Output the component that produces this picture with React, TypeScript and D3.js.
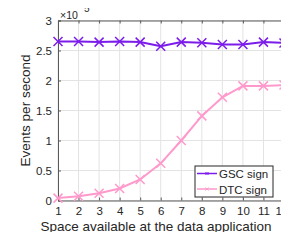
import * as d3 from 'd3'
import { useEffect, useRef } from 'react'

const space = [1, 2, 3, 4, 5, 6, 7, 8, 9, 10, 11, 12]
const gscSign = [2.65, 2.65, 2.64, 2.65, 2.64, 2.57, 2.64, 2.63, 2.6, 2.6, 2.64, 2.625]
const dtcSign = [0.04, 0.07, 0.12, 0.2, 0.35, 0.62, 1.0, 1.41, 1.72, 1.91, 1.91, 1.925]
const yTicks = [0, 0.5, 1, 1.5, 2, 2.5, 3]

const series = [
  { name: 'GSC sign', values: gscSign, color: '#7c1ceb' },
  { name: 'DTC sign', values: dtcSign, color: '#ff99cc' },
]

export default function App() {
  const ref = useRef<SVGSVGElement>(null)

  useEffect(() => {
    if (!ref.current) return
    const svg = d3.select(ref.current)
    svg.selectAll('*').remove()

    const width = 289
    const height = 240
    const margin = { top: 20.5, right: 5, bottom: 39.5, left: 58 }
    const font = 'Liberation Sans, Arial, sans-serif'
    const axisColor = '#5a5a5a'

    const x = d3
      .scaleLinear()
      .domain([1, 12])
      .range([margin.left, width - margin.right])
    const y = d3
      .scaleLinear()
      .domain([0, 3])
      .range([height - margin.bottom, margin.top])

    // Grid
    svg
      .append('g')
      .selectAll('line')
      .data(space)
      .enter()
      .append('line')
      .attr('x1', d => x(d))
      .attr('x2', d => x(d))
      .attr('y1', y(0))
      .attr('y2', y(3))
      .attr('stroke', '#e3e3e3')
    svg
      .append('g')
      .selectAll('line')
      .data(yTicks)
      .enter()
      .append('line')
      .attr('x1', x(1))
      .attr('x2', x(12))
      .attr('y1', d => y(d))
      .attr('y2', d => y(d))
      .attr('stroke', '#e3e3e3')

    // Axes with inward ticks
    const bottom = svg
      .append('g')
      .attr('transform', `translate(0,${y(0)})`)
      .call(d3.axisBottom(x).tickValues(space).tickSize(-3).tickPadding(6).tickFormat(d3.format('d')))
    const top = svg
      .append('g')
      .attr('transform', `translate(0,${y(3)})`)
      .call(d3.axisTop(x).tickValues(space).tickSize(-3).tickFormat(() => ''))
    const left = svg
      .append('g')
      .attr('transform', `translate(${x(1)},0)`)
      .call(d3.axisLeft(y).tickValues(yTicks).tickSize(-3).tickPadding(6).tickFormat(d3.format('')))
    const right = svg
      .append('g')
      .attr('transform', `translate(${x(12)},0)`)
      .call(d3.axisRight(y).tickValues(yTicks).tickSize(-3).tickFormat(() => ''))

    ;[bottom, top, left, right].forEach(g => {
      g.selectAll('path').attr('stroke', axisColor)
      g.selectAll('line').attr('stroke', axisColor)
      g.selectAll('text')
        .attr('fill', '#262626')
        .style('font-family', font)
        .style('font-size', '11.5px')
    })
    // keep the last label inside the window
    bottom.selectAll<SVGTextElement, number>('text').filter(d => d === 12).attr('dx', -2.5)

    // Exponent
    svg
      .append('text')
      .attr('x', x(1) + 2)
      .attr('y', 18.5)
      .attr('fill', '#262626')
      .style('font-family', font)
      .style('font-size', '10.5px')
      .text('×10')
    svg
      .append('text')
      .attr('x', x(1) + 26)
      .attr('y', 12)
      .attr('fill', '#262626')
      .style('font-family', font)
      .style('font-size', '10px')
      .text('5')

    // Lines and markers
    series.forEach(s => {
      const line = d3
        .line<number>()
        .x((_, i) => x(space[i]))
        .y(d => y(d))
      svg
        .append('path')
        .datum(s.values)
        .attr('fill', 'none')
        .attr('stroke', s.color)
        .attr('stroke-width', 2)
        .attr('d', line)
      const m = 4.5
      svg
        .append('g')
        .selectAll('path')
        .data(s.values)
        .enter()
        .append('path')
        .attr('d', (d, i) => {
          const cx = x(space[i])
          const cy = y(d)
          return `M${cx - m},${cy - m}L${cx + m},${cy + m}M${cx - m},${cy + m}L${cx + m},${cy - m}`
        })
        .attr('stroke', s.color)
        .attr('stroke-width', 1.5)
        .attr('fill', 'none')
    })

    // Legend
    const lg = svg.append('g').attr('transform', 'translate(195,166)')
    lg.append('rect')
      .attr('width', 78)
      .attr('height', 31)
      .attr('fill', 'white')
      .attr('stroke', '#262626')
      .attr('stroke-width', 1)
    series.forEach((s, i) => {
      const ly = 7.5 + i * 15.5
      lg.append('line')
        .attr('x1', 2)
        .attr('x2', 22)
        .attr('y1', ly)
        .attr('y2', ly)
        .attr('stroke', s.color)
        .attr('stroke-width', 1.5)
      lg.append('path')
        .attr('d', `M10.5,${ly - 1.5}L13.5,${ly + 1.5}M10.5,${ly + 1.5}L13.5,${ly - 1.5}`)
        .attr('stroke', s.color)
        .attr('stroke-width', 1)
      lg.append('text')
        .attr('x', 24)
        .attr('y', ly + 4.5)
        .attr('fill', '#262626')
        .style('font-family', font)
        .style('font-size', '11.5px')
        .text(s.name)
    })

    // Axis labels
    svg
      .append('text')
      .attr('x', (x(1) + x(12)) / 2 - 15)
      .attr('y', 231)
      .attr('text-anchor', 'middle')
      .attr('fill', '#262626')
      .style('font-family', font)
      .style('font-size', '13.5px')
      .text('Space available at the data application')
    svg
      .append('text')
      .attr('transform', `translate(30,${(y(0) + y(3)) / 2}) rotate(-90)`)
      .attr('text-anchor', 'middle')
      .attr('fill', '#262626')
      .style('font-family', font)
      .style('font-size', '13.5px')
      .text('Events per second')
  }, [])

  return (
    <div style={{ margin: -8 }}>
      <svg ref={ref} width={289} height={240} style={{ display: 'block', background: 'white' }} />
    </div>
  )
}
